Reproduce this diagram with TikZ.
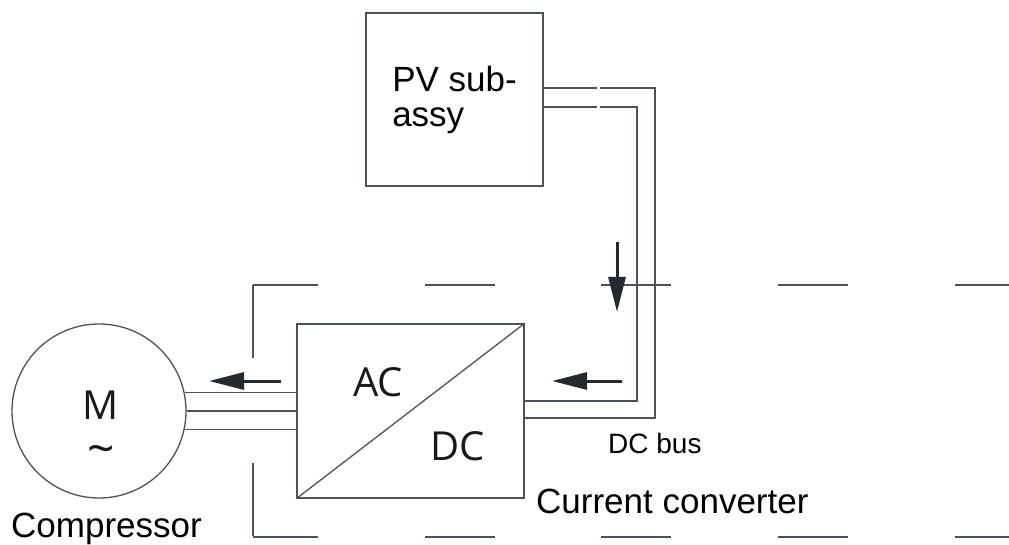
\documentclass[tikz,border=0pt]{standalone}
\usepackage{fontspec}
\setmainfont{Liberation Sans}
\newfontfamily\symbfont{Open Sans}
\usepackage{tikz}
\usetikzlibrary{arrows.meta}
\definecolor{linegray}{HTML}{4B5259}
\definecolor{arrowdark}{HTML}{232B31}
\tikzset{
    block/.style={draw=linegray, line width=1.3pt, rectangle, inner sep=0pt},
    motorc/.style={draw=linegray, line width=1.3pt, circle, inner sep=0pt},
    wire/.style={draw=linegray, line width=1.3pt},
    flow/.style={draw=arrowdark, line width=3pt, -{Triangle[length=35pt,width=17pt]}},
    frame/.style={draw=linegray, line width=1.3pt, dash pattern=on 70pt off 106.7pt, dash phase=5pt},
    symb/.style={font=\symbfont\fontsize{40}{40}\selectfont, text=black!90},
    lbl/.style={anchor=base west, inner sep=0pt, text=black},
}

\begin{document}
\begin{tikzpicture}[x=1pt, y=-1pt]
    \useasboundingbox (0,0) rectangle (1009,545);
    % frame round the unit
    \coordinate (ftl) at (253,285);
    \coordinate (ftr) at (1009,285);
    \coordinate (fbl) at (253,537);
    \coordinate (fbr) at (1009,537);
    \draw[frame] (ftl) -- (ftr);
    \draw[frame, dash pattern=on 73pt off 105pt, dash phase=0pt] (ftl) -- (fbl);
    \draw[frame] (fbl) -- (fbr);

    \node[block, minimum width=177pt, minimum height=173pt, align=left,
          font=\fontsize{35}{35}\selectfont] (pv) at (454.5,99.5) {PV sub-\\assy};
    \node[block, minimum width=227pt, minimum height=174pt] (conv) at (410.5,411) {};
    \draw[wire] (conv.south west) -- (conv.north east);
    \node[symb] (ac) at (378,382) {AC};
    \node[symb] (dc) at (458,446) {DC};
    \node[motorc, minimum size=174pt] (motor) at (99,411) {};
    \node[symb, align=center] (mtxt) at (101,428) {M\\[6pt]{\fontsize{48}{40}\selectfont\textasciitilde}};

    % labels
    \node[lbl, font=\fontsize{35}{40}\selectfont] (comp) at (11,537) {Compressor};
    \node[lbl, font=\fontsize{35}{40}\selectfont] (convlbl) at (536,513) {Current converter};
    \node[lbl, font=\fontsize{28}{30}\selectfont] (buslbl) at (608,453) {DC bus};

    % motor wires
    \foreach \a in {12,0,-12}
        \draw[wire] (motor.\a) -- (motor.\a -| conv.west);

    % DC bus
    \coordinate (gapl) at (597,0);
    \coordinate (gapr) at (600,0);
    \coordinate (ot) at (655,88);
    \coordinate (ob) at (655,418);
    \coordinate (it) at (637,107);
    \coordinate (ib) at (637,401);
    \draw[wire] (ot -| pv.east) -- (ot -| gapl);
    \draw[wire] (ot -| gapr) -- (ot) -- (ob) -- (ob -| conv.east);
    \draw[wire] (it -| pv.east) -- (it -| gapl);
    \draw[wire] (it -| gapr) -- (it) -- (ib) -- (ib -| conv.east);

    % current direction
    \coordinate (downs) at (617,242);
    \coordinate (downe) at (617,312);
    \coordinate (buss) at (622,381);
    \coordinate (buse) at (552,381);
    \coordinate (mots) at (281,381);
    \coordinate (mote) at (209,381);
    \draw[flow] (downs) -- (downe);
    \draw[flow] (buss) -- (buse);
    \draw[flow] (mots) -- (mote);
\end{tikzpicture}
\end{document}
